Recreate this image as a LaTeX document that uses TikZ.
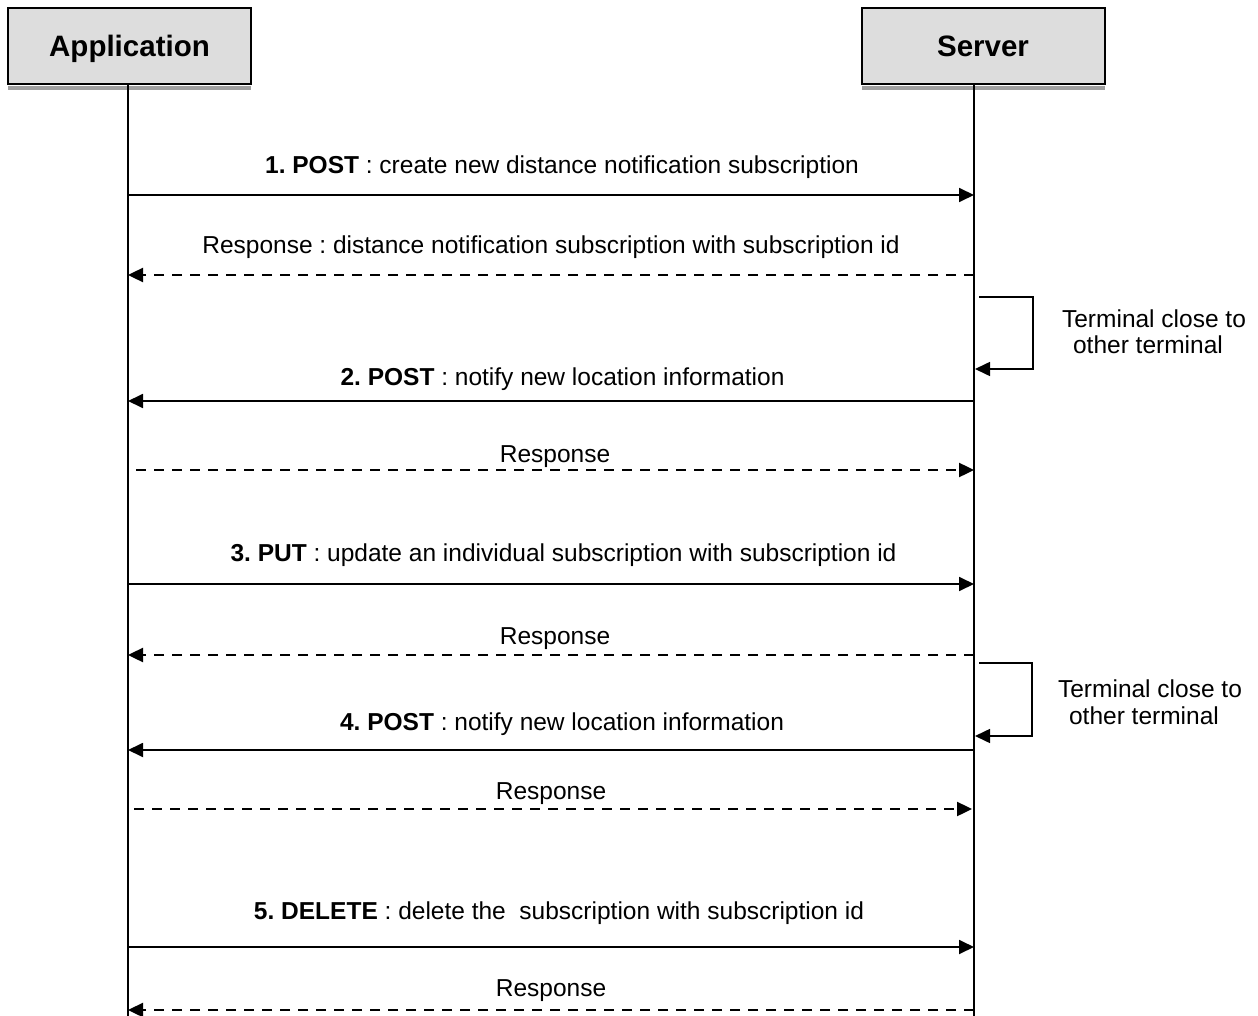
\documentclass[tikz,border=0pt]{standalone}
\usepackage{fontspec}
\setmainfont{Liberation Sans}
\usetikzlibrary{arrows.meta}
\definecolor{boxgrey}{HTML}{DDDDDD}
\frenchspacing
\begin{document}
\begin{tikzpicture}[x=1pt,y=-1pt,
  lbl/.style={anchor=base,font=\fontsize{24.5}{29}\selectfont,inner sep=0pt},
  note/.style={anchor=base,font=\fontsize{24.5}{29}\selectfont,inner sep=0pt},
  hdr/.style={draw=black,line width=2pt,fill=boxgrey,minimum width=243pt,minimum height=76pt,
    inner sep=0pt,text height=21.5pt,text depth=0pt,font=\fontsize{29.5}{34}\selectfont\bfseries},
  shadowbar/.style={fill=gray!75,draw=none},
  life/.style={line width=1.8pt},
  msg/.style={line width=1.8pt,-{Triangle[length=15pt,width=14pt]}},
  rsp/.style={msg,line width=2.4pt,dash pattern=on 10pt off 8pt},
  loop/.style={line width=1.6pt,-{Triangle[length=15pt,width=14pt]}},
]
\useasboundingbox (0,0) rectangle (1258,1016);

% headers
\node[hdr] (app) at (129.5,46) {Application};
\node[hdr] (srv) at (983,46) {Server};
\fill[shadowbar] (8,86) rectangle (251,90);
\fill[shadowbar] (862,86) rectangle (1105,90);

% lifelines
\coordinate (aTop) at (128,90);
\coordinate (aBot) at (128,1016);
\coordinate (sTop) at (974,90);
\coordinate (sBot) at (974,1016);
\draw[life] (app.south -| aTop) -- (aBot);
\draw[life] (srv.south -| sTop) -- (sBot);

% 1. POST
\coordinate (a1) at (128,195); \coordinate (s1) at (974,195);
\draw[msg] (a1) -- (s1);
\node[lbl] (l1) at (562,173.5) {\textbf{1. POST} : create new distance notification subscription};

% Response
\coordinate (a2) at (128,275); \coordinate (s2) at (974,275);
\draw[rsp] (s2) -- (a2);
\node[lbl] (l2) at (551,253.5) {Response : distance notification subscription with subscription id};

% loop 1
\coordinate (ls1) at (979,297); \coordinate (le1) at (975,369);
\draw[loop] (ls1) -- ++(54,0) |- (le1);
\node[note] (n1a) at (1154,327) {Terminal close to};
\node[note] (n1b) at (1148,353) {other terminal};

% 2. POST
\coordinate (a3) at (128,401); \coordinate (s3) at (974,401);
\draw[msg] (s3) -- (a3);
\node[lbl] (l3) at (562.5,385.5) {\textbf{2. POST} : notify new location information};

% Response
\coordinate (a4) at (136,470); \coordinate (s4) at (974,470);
\draw[rsp] (a4) -- (s4);
\node[lbl] (l4) at (555,462) {Response};

% 3. PUT
\coordinate (a5) at (128,584); \coordinate (s5) at (974,584);
\draw[msg] (a5) -- (s5);
\node[lbl] (l5) at (563.5,561) {\textbf{3. PUT} : update an individual subscription with subscription id};

% Response
\coordinate (a6) at (128,655); \coordinate (s6) at (974,655);
\draw[rsp] (s6) -- (a6);
\node[lbl] (l6) at (555,644) {Response};

% loop 2
\coordinate (ls2) at (979,663); \coordinate (le2) at (975,736);
\draw[loop] (ls2) -- ++(53,0) |- (le2);
\node[note] (n2a) at (1150,697) {Terminal close to};
\node[note] (n2b) at (1144,724) {other terminal};

% 4. POST
\coordinate (a7) at (128,750); \coordinate (s7) at (974,750);
\draw[msg] (s7) -- (a7);
\node[lbl] (l7) at (562,730) {\textbf{4. POST} : notify new location information};

% Response
\coordinate (a8) at (134,809); \coordinate (s8) at (972,809);
\draw[rsp] (a8) -- (s8);
\node[lbl] (l8) at (551,799) {Response};

% 5. DELETE
\coordinate (a9) at (128,947); \coordinate (s9) at (974,947);
\draw[msg] (a9) -- (s9);
\node[lbl] (l9) at (559,919) {\textbf{5. DELETE} : delete the\ \ subscription with subscription id};

% Response
\coordinate (a10) at (128,1010); \coordinate (s10) at (974,1010);
\draw[rsp] (s10) -- (a10);
\node[lbl] (l10) at (551,996) {Response};
\end{tikzpicture}
\end{document}
